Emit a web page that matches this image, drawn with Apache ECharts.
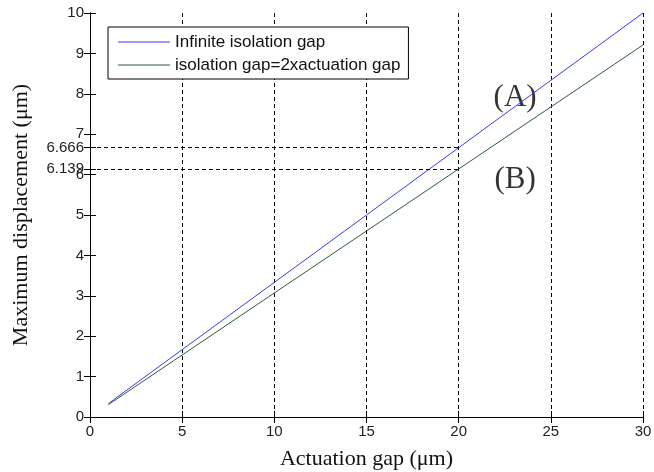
<!DOCTYPE html>
<html>
<head>
<meta charset="utf-8">
<script src="https://cdn.jsdelivr.net/npm/echarts@6/dist/echarts.min.js"></script>
<style>
  html, body { margin: 0; padding: 0; background: #fff; }
  #chart { width: 654px; height: 472px; }
</style>
</head>
<body>
<div id="chart"></div>
<script>
// data
const gapX = [1, 5, 10, 15, 20, 25, 30];
const infiniteGap = [0.333, 1.667, 3.333, 5.0, 6.666, 8.333, 10.0];
const doubleGap = [0.307, 1.535, 3.07, 4.604, 6.139, 7.674, 9.208];
const yTicks = [0, 1, 2, 3, 4, 5, 6, 7, 8, 9, 10];
const refValues = [6.666, 6.139];
const refX = 20;
const notes = [[23.06, 7.9, '(A)'], [23.06, 5.87, '(B)']];

const chart = echarts.init(document.getElementById('chart'));

const tickStyle = { show: true, inside: true, length: 6, lineStyle: { color: '#000', width: 1 } };
const lineAx = { show: true, lineStyle: { color: '#000', width: 1 } };
const labelFont = { color: '#222', fontSize: 15, fontFamily: 'Liberation Sans, Arial, sans-serif' };
const serif = 'Liberation Serif, Times New Roman, serif';
const allYTicks = yTicks.concat(refValues);

const blue = '#3b3bf0';
const green = '#2e5a3c';

const option = {
  animation: false,
  backgroundColor: '#fff',
  grid: { left: 90, right: 11, top: 13, bottom: 55, containLabel: false, outerBoundsMode: 'none' },
  legend: {
    orient: 'vertical',
    left: 108, top: 27,
    data: [
      { name: 'Infinite isolation gap', icon: 'rect', itemStyle: { color: blue } },
      { name: 'isolation gap=2xactuation gap', icon: 'rect', itemStyle: { color: green } }
    ],
    borderColor: '#000', borderWidth: 1, borderRadius: 0,
    backgroundColor: '#fff',
    padding: [6, 8, 5, 10],
    itemWidth: 52, itemHeight: 1, itemGap: 5,
    textStyle: { color: '#111', fontSize: 17, lineHeight: 18, fontFamily: 'Liberation Sans, Arial, sans-serif' }
  },
  xAxis: [
    {
      type: 'value', min: 0, max: 30, interval: 5, position: 'bottom',
      name: 'Actuation gap (\u03bcm)', nameLocation: 'middle', nameGap: 31,
      nameTextStyle: { color: '#111', fontSize: 22, fontFamily: serif },
      axisLine: lineAx, axisTick: tickStyle,
      axisLabel: Object.assign({ margin: 7 }, labelFont),
      splitLine: { show: true, lineStyle: { color: '#000', type: [4, 3], width: 1 } }
    },
    {
      type: 'value', min: 0, max: 30, interval: 5, position: 'top',
      axisLine: lineAx, axisTick: tickStyle, axisLabel: { show: false }, splitLine: { show: false }
    }
  ],
  yAxis: [
    {
      type: 'value', min: 0, max: 10, interval: 1, position: 'left',
      name: 'Maximum displacement (\u03bcm)', nameLocation: 'middle', nameGap: 58,
      nameTextStyle: { color: '#111', fontSize: 22, fontFamily: serif },
      axisLine: lineAx,
      axisTick: Object.assign({ customValues: allYTicks }, tickStyle),
      axisLabel: Object.assign({ margin: 6, customValues: allYTicks, hideOverlap: false }, labelFont),
      splitLine: { show: false }
    },
    {
      type: 'value', min: 0, max: 10, interval: 1, position: 'right',
      axisLine: lineAx,
      axisTick: Object.assign({ customValues: allYTicks }, tickStyle),
      axisLabel: { show: false }, splitLine: { show: false }
    }
  ],
  series: [
    {
      name: 'Infinite isolation gap', type: 'line', symbol: 'none',
      data: gapX.map((x, i) => [x, infiniteGap[i]]),
      lineStyle: { color: blue, width: 1 }, itemStyle: { color: blue },
      z: 3,
      markLine: {
        silent: true, symbol: 'none', label: { show: false },
        lineStyle: { color: '#000', type: [4, 3], width: 1 },
        data: refValues.map(v => [{ coord: [0, v] }, { coord: [refX, v] }])
      }
    },
    {
      name: 'isolation gap=2xactuation gap', type: 'line', symbol: 'none',
      data: gapX.map((x, i) => [x, doubleGap[i]]),
      lineStyle: { color: green, width: 1 }, itemStyle: { color: green },
      z: 3
    },
    {
      name: 'notes', type: 'scatter', symbolSize: 0, silent: true,
      data: notes,
      label: {
        show: true, position: 'inside',
        formatter: p => p.value[2],
        color: '#000', fontSize: 31, fontFamily: serif
      }
    }
  ]
};

chart.setOption(option);
</script>
</body>
</html>
